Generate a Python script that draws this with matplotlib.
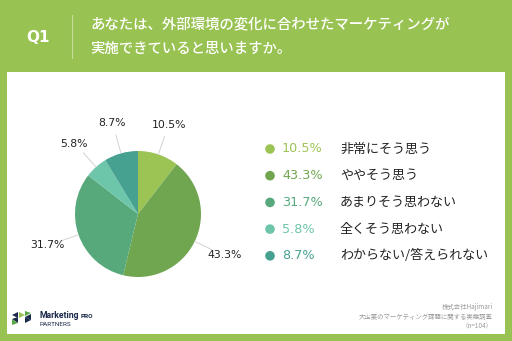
import numpy as np
import matplotlib
matplotlib.use("Agg")
from matplotlib import pyplot as plt
from matplotlib.patches import Rectangle, Polygon, Circle

plt.rcParams["font.family"] = ["Noto Sans CJK JP", "DejaVu Sans"]

title_lines = ["あなたは、外部環境の変化に合わせたマーケティングが", "実施できていると思いますか。"]
categories = ["非常にそう思う", "ややそう思う", "あまりそう思わない", "全くそう思わない", "わからない/答えられない"]
shares = [10.5, 43.3, 31.7, 5.8, 8.7]
colors = ["#9cc455", "#6fa64f", "#57a97b", "#6dc5aa", "#47a191"]
source_lines = ["株式会社Hajimari", "大企業のマーケティング課題に関する実態調査", "（n=104）"]

GREEN = "#98c252"

fig = plt.figure(figsize=(5.12, 3.41), dpi=100)
fig.patch.set_facecolor(GREEN)

# background axes in pixel coords (y down)
bg = fig.add_axes([0, 0, 1, 1])
bg.set_xlim(0, 512)
bg.set_ylim(341, 0)
bg.axis("off")
bg.add_patch(Rectangle((7, 72), 498, 262, facecolor="white", edgecolor="none"))

# header
bg.text(38, 38, "Q1", color="white", fontsize=11, fontweight="bold", ha="center", va="center",
        family=["DejaVu Sans"])
bg.plot([72, 72], [15, 58], color="#c4de98", lw=0.8)
bg.text(90, 24, title_lines[0], color="white", fontsize=10.4, fontweight="medium",
        va="center", ha="left")
bg.text(90, 49, title_lines[1], color="white", fontsize=10.4, fontweight="medium",
        va="center", ha="left")

# pie
cx, cy, r = 138, 214, 63
pie_ax = fig.add_axes([(cx - r) / 512, (341 - cy - r) / 341, 2 * r / 512, 2 * r / 341])
wedges, _ = pie_ax.pie(shares, colors=colors, startangle=90, counterclock=False, radius=1,
                       wedgeprops=dict(linewidth=0))
pie_ax.set_xlim(-1, 1)
pie_ax.set_ylim(-1, 1)
pie_ax.set_aspect("equal")
pie_ax.axis("off")

for w, v in zip(wedges, shares):
    ang = np.deg2rad((w.theta1 + w.theta2) / 2)
    ca, sa = np.cos(ang), np.sin(ang)
    pie_ax.plot([1.0 * ca, 1.3 * ca], [1.0 * sa, 1.3 * sa], color="#cccccc", lw=0.6, clip_on=False)
    pie_ax.text(1.52 * ca, 1.5 * sa, f"{v}%", ha="center", va="center", fontsize=7.8,
                color="#222222", family=["DejaVu Sans"], clip_on=False)

# legend
for i, (cat, v, c) in enumerate(zip(categories, shares, colors)):
    y = 149 + i * 26.7
    bg.add_patch(Circle((270, y), 4.8, facecolor=c, edgecolor="none"))
    bg.text(282, y, f"{v}%", color=c, fontsize=9.2, va="center", ha="left", family=["DejaVu Sans"])
    bg.text(340, y, cat, color="#222222", fontsize=9.4, va="center", ha="left")

# footer source
for i, line in enumerate(source_lines):
    bg.text(493, 307 + i * 9.5, line, color="#9a9a9a", fontsize=4.6, ha="right", va="center")

# logo
navy = "#1b2a4a"
tris = [
    [(12, 315), (18, 312), (18, 318)],
    [(12, 319), (18, 317), (18, 323)],
    [(12, 319), (12, 325), (18, 323)],
    [(19, 312), (25, 315), (19, 318)],
    [(25, 311), (31, 313), (25, 316)],
    [(25, 317), (31, 314), (31, 320)],
    [(25, 317), (31, 320), (25, 323)],
]
tri_cols = [navy, navy, "#5aa64b", GREEN, "#5aa64b", navy, navy]
for pts, c in zip(tris, tri_cols):
    bg.add_patch(Polygon(pts, closed=True, facecolor=c, edgecolor="none"))
mk = bg.text(40, 315, "Marketing", color=navy, fontsize=6.2, fontweight="bold", va="center",
             family=["Roboto"])
bg.annotate("PRO", xy=(1, 0), xycoords=mk, xytext=(1, 0), textcoords="offset points",
            color=navy, fontsize=4.6, fontweight="bold", va="bottom", family=["Roboto"])
bg.text(40, 325, "PARTNERS", color=navy, fontsize=4.6, va="center", family=["Roboto"])

fig.savefig("out.png", dpi=100, facecolor=fig.get_facecolor())
